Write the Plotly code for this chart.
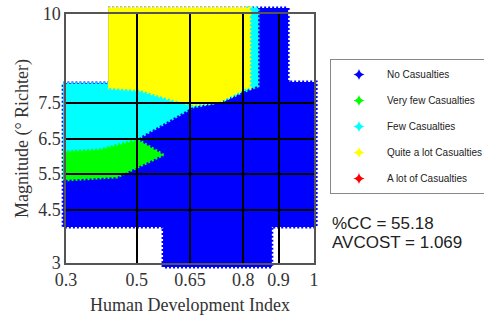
import plotly.graph_objects as go

# ---- data ----
x_ticks = [0.3, 0.5, 0.65, 0.8, 0.9, 1.0]
x_tick_text = ["0.3", "0.5", "0.65", "0.8", "0.9", "1"]
y_ticks = [3, 4.5, 5.5, 6.5, 7.5, 10]
y_tick_text = ["3", "4.5", "5.5", "6.5", "7.5", "10"]

class_names = ["No Casualties", "Very few Casualties", "Few Casualties",
               "Quite a lot Casualties", "A lot of Casualties"]
class_colors = ["#0000ff", "#00ff00", "#00ffff", "#ffff00", "#ff0000"]

# decision-region outlines (HDI, magnitude)
no_cas_x = [0.419, 0.927, 0.927, 1.006, 1.006, 0.881, 0.881, 0.574, 0.574, 0.292, 0.292, 0.419]
no_cas_y = [10.17, 10.17, 8.09, 8.09, 4.01, 4.01, 2.89, 2.89, 4.01, 4.01, 8.06, 8.06]

few_x = [0.292, 0.814, 0.814, 0.842, 0.842, 0.811, 0.735, 0.659, 0.509, 0.503, 0.292]
few_y = [8.04, 8.04, 10.17, 10.17, 7.98, 7.86, 7.53, 7.39, 6.54, 6.40, 5.90]

quite_x = [0.419, 0.819, 0.819, 0.811, 0.735, 0.659, 0.602, 0.509, 0.424, 0.419]
quite_y = [10.17, 10.17, 7.92, 7.92, 7.53, 7.44, 7.58, 7.86, 7.92, 7.92]

very_few_x = [0.292, 0.396, 0.503, 0.574, 0.444, 0.292]
very_few_y = [6.12, 6.18, 6.46, 6.04, 5.42, 5.33]

cc_text = "%CC = 55.18"
avcost_text = "AVCOST = 1.069"

# ---- layout geometry ----
W, H = 484, 318
ml, mr, mt, mb = 50, 160, 4, 45
pw, ph = W - ml - mr, H - mt - mb
# inner (axes box) in pixels
bx0, bx1, by0, by1 = 66, 314, 14, 263
xd = [(bx0 - ml) / pw, (bx1 - ml) / pw]
yd = [(H - mb - by1) / ph, (H - mb - by0) / ph]
sx = (bx1 - bx0) / (x_ticks[-1] - x_ticks[0])
sy = (by1 - by0) / (y_ticks[-1] - y_ticks[0])
x_full = [x_ticks[0] - (bx0 - ml) / sx, x_ticks[-1] + (ml + pw - bx1) / sx]
y_full = [y_ticks[0] - (H - mb - by1) / sy, y_ticks[-1] + (by0 - mt) / sy]

fig = go.Figure()

regions = [
    (no_cas_x, no_cas_y, class_colors[0]),
    (few_x, few_y, class_colors[2]),
    (quite_x, quite_y, class_colors[3]),
    (very_few_x, very_few_y, class_colors[1]),
]
for rx, ry, col in regions:
    fig.add_trace(go.Scatter(
        x=rx, y=ry, mode="lines", fill="toself", fillcolor=col,
        line=dict(color=col, width=3, dash="2px,2px"),
        hoverinfo="skip", showlegend=False, xaxis="x", yaxis="y"))

for i, (nm, col) in enumerate(zip(class_names, class_colors)):
    fig.add_trace(go.Scatter(
        x=[None], y=[None], mode="markers", name=nm,
        marker=dict(symbol="star-diamond", size=8, color=col),
        legendgroup=f"g{i}", xaxis="x", yaxis="y"))

serif = "Liberation Serif, Times New Roman, serif"
fig.update_layout(
    width=W, height=H,
    margin=dict(l=ml, r=mr, t=mt, b=mb, pad=0, autoexpand=False),
    paper_bgcolor="white", plot_bgcolor="rgba(0,0,0,0)",
    showlegend=True,
    xaxis=dict(domain=[0, 1], range=x_full, visible=False, fixedrange=True, automargin=False),
    yaxis=dict(domain=[0, 1], range=y_full, visible=False, fixedrange=True, automargin=False),
    xaxis2=dict(domain=xd, range=[x_ticks[0], x_ticks[-1]], anchor="y2", automargin=False,
                tickvals=x_ticks, ticktext=x_tick_text, ticks="",
                showgrid=True, gridcolor="black", gridwidth=1.5,
                showline=True, linecolor="#555", linewidth=1.5, mirror=True,
                zeroline=False, fixedrange=True,
                tickfont=dict(family=serif, size=18, color="#333"),
                title=dict(text="Human Development Index", standoff=9,
                           font=dict(family=serif, size=18, color="#333"))),
    yaxis2=dict(domain=yd, range=[y_ticks[0], y_ticks[-1]], anchor="x2", automargin=False,
                tickvals=y_ticks, ticktext=y_tick_text, ticks="",
                showgrid=True, gridcolor="black", gridwidth=1.5,
                showline=True, linecolor="#555", linewidth=1.5, mirror=True,
                zeroline=False, fixedrange=True,
                tickfont=dict(family=serif, size=18, color="#333"),
                title=dict(text="Magnitude (° Richter)", standoff=5,
                           font=dict(family=serif, size=18, color="#333"))),
    legend=dict(x=(330 - ml) / pw, y=(H - mb - 59) / ph, xanchor="left", yanchor="top",
                bordercolor="#888", borderwidth=1, bgcolor="white",
                itemwidth=46,
                font=dict(family="Liberation Sans Narrow, Liberation Sans, Arial", size=10, color="#222"),
                tracegroupgap=7, traceorder="grouped"),
    annotations=[
        dict(text=cc_text, x=(330 - ml) / pw, y=(H - mb - 223) / ph, xref="paper", yref="paper",
             xanchor="left", yanchor="middle", showarrow=False,
             font=dict(family="Liberation Sans, Arial", size=17, color="#222")),
        dict(text=avcost_text, x=(330 - ml) / pw, y=(H - mb - 242) / ph, xref="paper", yref="paper",
             xanchor="left", yanchor="middle", showarrow=False,
             font=dict(family="Liberation Sans, Arial", size=17, color="#222")),
    ],
)
# dummy trace so the x2/y2 axes are drawn
fig.add_trace(go.Scatter(x=[None], y=[None], xaxis="x2", yaxis="y2", showlegend=False,
                         hoverinfo="skip"))

fig.write_html("out.html", config={"displayModeBar": False},
               post_script="document.body.style.margin='0';")
